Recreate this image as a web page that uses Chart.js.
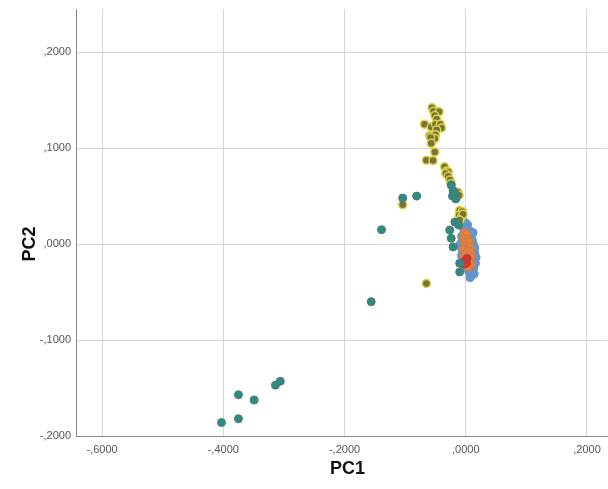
<!DOCTYPE html>
<html>
<head>
<meta charset="utf-8">
<script src="https://cdn.jsdelivr.net/npm/chart.js@4"></script>
<style>
html,body{margin:0;padding:0;background:#fff;}
#c{display:block;}
</style>
</head>
<body>
<canvas id="c" width="608" height="489"></canvas>
<script>
// Tick values
const xTicks = [-0.6, -0.4, -0.2, 0.0, 0.2];
const yTicks = [-0.2, -0.1, 0.0, 0.1, 0.2];
const xTitle = 'PC1';
const yTitle = 'PC2';

// Groups of (PC1, PC2) values
const tealPoints = [
  [-0.403,-0.186],[-0.375,-0.182],[-0.375,-0.157],[-0.349,-0.1625],[-0.314,-0.147],[-0.306,-0.143],
  [-0.156,-0.060],[-0.139,0.015],[-0.104,0.048],[-0.081,0.050],
  [-0.024,0.0615],[-0.021,0.056],[-0.018,0.053],[-0.022,0.050],[-0.0165,0.047],
  [-0.018,0.023],[-0.0265,0.0146],[-0.024,0.006],[-0.021,-0.003],[-0.010,-0.020],[-0.010,-0.029],[-0.012,0.020]
];
const yellowPoints = [
  [-0.0557,0.142],[-0.053,0.1385],[-0.044,0.138],[-0.051,0.134],[-0.048,0.130],[-0.068,0.125],
  [-0.057,0.122],[-0.050,0.125],[-0.042,0.125],[-0.040,0.121],[-0.048,0.119],[-0.0595,0.113],
  [-0.050,0.114],[-0.051,0.110],[-0.058,0.111],[-0.057,0.105],[-0.051,0.096],[-0.065,0.0875],
  [-0.054,0.087],[-0.035,0.0805],[-0.032,0.076],[-0.029,0.0753],[-0.033,0.0736],[-0.029,0.0708],
  [-0.026,0.0667],[-0.024,0.063],[-0.013,0.054],[-0.011,0.051],[-0.010,0.035],[-0.0055,0.034],
  [-0.011,0.030],[-0.007,0.0285],[-0.0045,0.031],[-0.010,0.025],[-0.104,0.041],[-0.065,-0.041]
];
const bluePoints = [
  [-0.004,0.024],[0.000,0.022],[0.003,0.020],[-0.006,0.018],[0.002,0.016],[0.006,0.014],
  [-0.003,0.012],[0.004,0.010],[0.009,0.009],[-0.007,0.008],[0.001,0.006],[0.011,0.004],
  [-0.006,0.002],[0.007,0.001],[0.013,-0.001],[-0.008,-0.003],[0.003,-0.004],[0.012,-0.006],
  [-0.005,-0.008],[0.009,-0.009],[0.015,-0.010],[-0.007,-0.012],[0.005,-0.013],[0.014,-0.015],
  [-0.004,-0.017],[0.010,-0.018],[0.016,-0.020],[-0.002,-0.021],[0.008,-0.023],[0.013,-0.025],
  [0.002,-0.026],[0.011,-0.028],[0.006,-0.030],[0.014,-0.031],[0.009,-0.033],[0.017,-0.014],
  [0.015,-0.004],[-0.009,0.000],[0.012,0.012],[0.007,-0.035]
];
const orangePoints = [
  [-0.002,0.012],[0.002,0.010],[-0.004,0.006],[0.003,0.005],[0.006,0.002],[-0.002,0.001],
  [0.001,-0.002],[0.007,-0.003],[-0.004,-0.005],[0.004,-0.007],[0.009,-0.008],[0.000,-0.010],
  [0.006,-0.012],[-0.003,-0.013],[0.010,-0.014],[0.003,-0.016],[0.007,-0.019],[0.001,-0.020],
  [0.009,-0.022],[0.004,-0.024]
];
const redPoints = [[-0.001,-0.017],[0.001,-0.020],[-0.003,-0.021],[0.002,-0.015]];

const FONT = '"Liberation Sans", Arial, sans-serif';
const toXY = arr => arr.map(p => ({x: p[0], y: p[1]}));
const fmt = v => {
  let s = Math.abs(v).toFixed(4).replace(/^0\./, ',');
  return (v < -1e-9 ? '-' : '') + s;
};

const bgPlugin = {
  id: 'bg',
  beforeDraw(chart) {
    const ctx = chart.ctx;
    ctx.save();
    ctx.fillStyle = '#ffffff';
    ctx.fillRect(0, 0, chart.width, chart.height);
    ctx.restore();
  }
};
const titlePlugin = {
  id: 'axisTitles',
  afterDraw(chart) {
    const ctx = chart.ctx;
    const x = chart.scales.x, y = chart.scales.y;
    ctx.save();
    ctx.fillStyle = '#111111';
    ctx.font = 'bold 18px ' + FONT;
    ctx.textAlign = 'center';
    ctx.textBaseline = 'middle';
    ctx.fillText(xTitle, x.getPixelForValue(-0.195), 469);
    ctx.translate(30, y.getPixelForValue(0));
    ctx.rotate(-Math.PI / 2);
    ctx.fillText(yTitle, 0, 0);
    ctx.restore();
  }
};

new Chart(document.getElementById('c'), {
  type: 'scatter',
  data: {
    datasets: [
      {label: 'teal', data: toXY(tealPoints), backgroundColor: '#2f8a80', borderColor: '#4d7a76', borderWidth: 1, pointRadius: 4},
      {label: 'yellow', data: toXY(yellowPoints), backgroundColor: '#767244', borderColor: '#dcd43a', borderWidth: 1.5, pointRadius: 4},
      {label: 'red', data: toXY(redPoints), backgroundColor: '#d9302c', borderColor: '#b84040', borderWidth: 1, pointRadius: 4},
      {label: 'orange', data: toXY(orangePoints), backgroundColor: '#e5823a', borderColor: '#c97c4c', borderWidth: 1, pointRadius: 4},
      {label: 'blue', data: toXY(bluePoints), backgroundColor: '#5b9bd5', borderColor: '#6d8fbf', borderWidth: 1, pointRadius: 4}
    ]
  },
  options: {
    responsive: false,
    animation: false,
    layout: {autoPadding: false, padding: {top: 9, right: 1, left: 0, bottom: 0}},
    plugins: {legend: {display: false}, tooltip: {enabled: false}},
    scales: {
      x: {
        type: 'linear',
        min: -0.643,
        max: 0.233,
        afterBuildTicks: s => { s.ticks = xTicks.map(v => ({value: v})); },
        afterFit: s => { s.height = 53; s.paddingLeft = 0; s.paddingRight = 0; },
        ticks: {
          callback: v => fmt(v),
          color: '#555555',
          font: {family: FONT, size: 11},
          padding: 7,
          maxRotation: 0,
          autoSkip: false
        },
        grid: {color: '#d6d6d6', lineWidth: 1, drawTicks: false},
        border: {display: true, color: '#8c8c8c', width: 1},
        title: {display: false}
      },
      y: {
        type: 'linear',
        min: -0.2,
        max: 0.245,
        afterBuildTicks: s => { s.ticks = yTicks.map(v => ({value: v})); },
        afterFit: s => { s.width = 76; s.paddingTop = 0; s.paddingBottom = 0; },
        ticks: {
          callback: v => fmt(v),
          color: '#555555',
          font: {family: FONT, size: 11},
          padding: 5,
          autoSkip: false
        },
        grid: {color: '#d6d6d6', lineWidth: 1, drawTicks: false},
        border: {display: true, color: '#8c8c8c', width: 1},
        title: {display: false}
      }
    }
  },
  plugins: [bgPlugin, titlePlugin]
});
</script>
</body>
</html>
